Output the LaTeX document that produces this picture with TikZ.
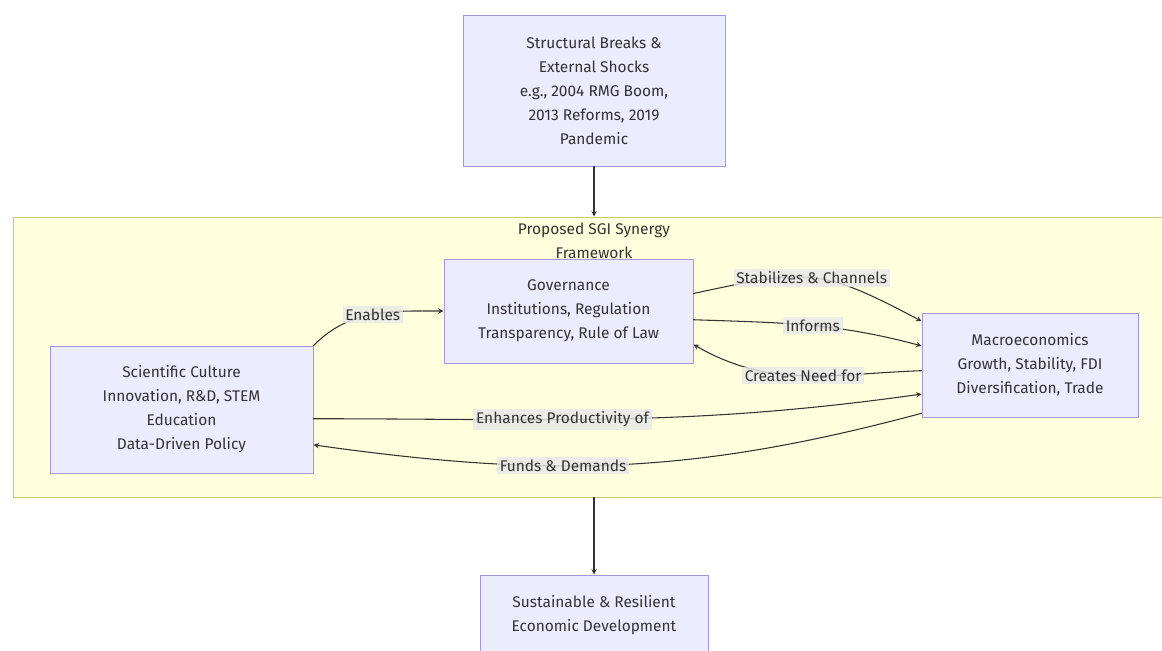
\documentclass[tikz,border=0pt]{standalone}
\usepackage{fontspec}
\setmainfont{Fira Sans}
\definecolor{boxfill}{HTML}{ECECFF}
\definecolor{boxline}{HTML}{A496D8}
\definecolor{clfill}{HTML}{FFFFDE}
\definecolor{clline}{HTML}{C8C87A}
\definecolor{ink}{HTML}{333333}
\definecolor{lblfill}{HTML}{E8E8E8}
\begin{document}
\begin{tikzpicture}[x=0.75pt, y=0.75pt, line cap=round, line join=round, >=stealth, font=\fontsize{11.6}{18}\selectfont, text=ink]
	\tikzset{box/.style={draw=boxline, fill=boxfill, align=center, line width=0.75pt, inner sep=0pt},
		cluster/.style={draw=clline, fill=clfill, line width=0.75pt, minimum width=867.75pt, minimum height=210pt},
		lbl/.style={fill=lblfill, fill opacity=0.8, text opacity=1, inner sep=2pt},
		link/.style={->, draw=ink, line width=0.8pt}}
	\clip (0,0) rectangle (1162,-650);
	\fill[white] (0,0) rectangle (1162,-650);
	\node[cluster] (sgi) at (591.5,-357) {};
	\node[align=center] (title) at (594,-241) {Proposed SGI Synergy\\Framework};
	\node[box, minimum width=196.5pt, minimum height=113.25pt] (shocks) at (594,-90.5) {Structural Breaks \&\\External Shocks\\e.g., 2004 RMG Boom,\\2013 Reforms, 2019\\Pandemic};
	\node[box, minimum width=186.75pt, minimum height=78pt] (gov) at (568.5,-311) {Governance\\Institutions, Regulation\\Transparency, Rule of Law};
	\node[box, minimum width=197.25pt, minimum height=95.25pt] (sci) at (181.5,-409.5) {Scientific Culture\\Innovation, R\&D, STEM\\Education\\Data-Driven Policy};
	\node[box, minimum width=162pt, minimum height=78pt] (macro) at (1030,-365) {Macroeconomics\\Growth, Stability, FDI\\Diversification, Trade};
	\node[box, minimum width=171pt, minimum height=60pt] (dev) at (594,-615) {Sustainable \& Resilient\\Economic Development};
	\draw[link] (shocks) -- (shocks |- sgi.north);
	\draw[link] (dev |- sgi.south) -- (dev);
	\draw[link] (sci.north east) to[out=45, in=180] node[lbl, pos=0.5] {Enables} (gov.west);
	\draw[link] (gov.8) to[out=12, in=152, looseness=1.3] node[lbl, pos=0.5] {Stabilizes \& Channels} (macro.158);
	\draw[link] (gov.-4) to[out=-2, in=165] node[lbl, pos=0.52] {Informs} (macro.170);
	\draw[link] (macro.183) to[out=182, in=-30] node[lbl, pos=0.5] {Creates Need for} (gov.-15);
	\draw[link] (sci.-4) to[out=0, in=188] node[lbl, pos=0.4] {Enhances Productivity of} (macro.195);
	\draw[link] (macro.204) to[out=195, in=-8] node[lbl, pos=0.6] {Funds \& Demands} (sci.-15.5);
\end{tikzpicture}
\end{document}
